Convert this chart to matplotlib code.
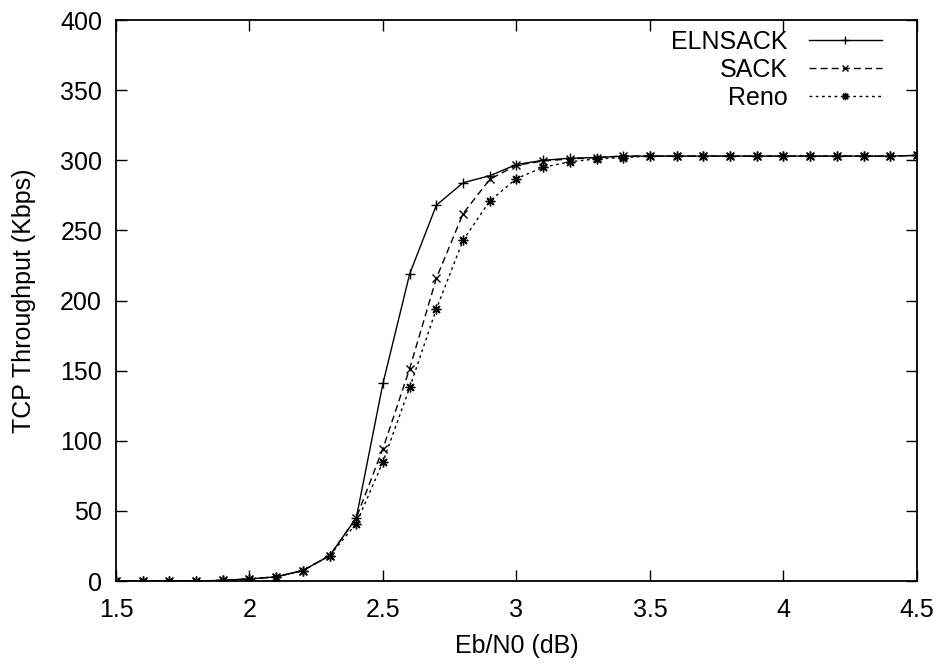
import matplotlib
matplotlib.use("Agg")
import matplotlib.pyplot as plt
import numpy as np

plt.rcParams['font.family'] = ['Liberation Sans', 'DejaVu Sans']

ebn0 = [1.5, 1.6, 1.7, 1.8, 1.9, 2.0, 2.1, 2.2, 2.3, 2.4, 2.5, 2.6, 2.7, 2.8, 2.9, 3.0,
        3.1, 3.2, 3.3, 3.4, 3.5, 3.6, 3.7, 3.8, 3.9, 4.0, 4.1, 4.2, 4.3, 4.4, 4.5]
elnsack = [0, 0, 0, 0, 0.5, 1.5, 3, 7.5, 18, 45, 141, 219, 268, 284, 289, 297,
           300, 301.5, 302, 303, 303, 303, 303, 303, 303, 303, 303, 303, 303, 303, 303.5]
sack = [0, 0, 0, 0, 0.5, 1.5, 3, 7.5, 18, 45, 94.5, 151.5, 216, 262, 286.5, 296.5,
        299.5, 301, 302, 303, 303, 303, 303, 303, 303, 303, 303, 303, 303, 303, 303.5]
reno = [0, 0, 0, 0, 0.5, 1.5, 3, 7.5, 18, 41, 85, 138, 194, 243, 271, 287,
        295, 299, 301, 302, 303, 303, 303, 303, 303, 303, 303, 303, 303, 303, 303.5]

xticks = [1.5, 2, 2.5, 3, 3.5, 4, 4.5]
xticklabels = ['1.5', '2', '2.5', '3', '3.5', '4', '4.5']
yticks = [0, 50, 100, 150, 200, 250, 300, 350, 400]

fig = plt.figure(figsize=(9.4, 6.69), dpi=100)
ax = fig.add_axes([0.1234, 0.1315, 0.8521, 0.8385])

ax.plot(ebn0, elnsack, color='black', lw=1.0, marker='+', ms=7, mew=1.0,
        label='ELNSACK')
ax.plot(ebn0, sack, color='black', lw=1.0, dashes=(5, 3), marker='x', ms=6, mew=1.0,
        label='SACK')
ax.plot(ebn0, reno, color='black', lw=1.0, dashes=(2, 2.5), marker=(8, 2, 0), ms=7, mew=1.0,
        label='Reno')

ax.set_xlim(1.5, 4.5)
ax.set_ylim(0, 400)
ax.set_xticks(xticks)
ax.set_xticklabels(xticklabels)
ax.set_yticks(yticks)
ax.tick_params(direction='in', length=8, width=1, top=True, right=True, labelsize=18)
ax.tick_params(axis='x', pad=12)
ax.tick_params(axis='y', pad=10)
for s in ax.spines.values():
    s.set_linewidth(1.3)

ax.set_xlabel('Eb/N0 (dB)', fontsize=18, labelpad=9)
ax.set_ylabel('TCP Throughput (Kbps)', fontsize=18, labelpad=17)

leg = ax.legend(loc='upper right', bbox_to_anchor=(0.956, 0.982), frameon=False,
                markerfirst=False, fontsize=18, markerscale=0.75,
                handlelength=2.9, handletextpad=0.85, labelspacing=0.16,
                borderaxespad=0, borderpad=0)
for t in leg.get_texts():
    t.set_ha('right')
leg._legend_box.align = 'right'

fig.savefig('out.png', dpi=100)
